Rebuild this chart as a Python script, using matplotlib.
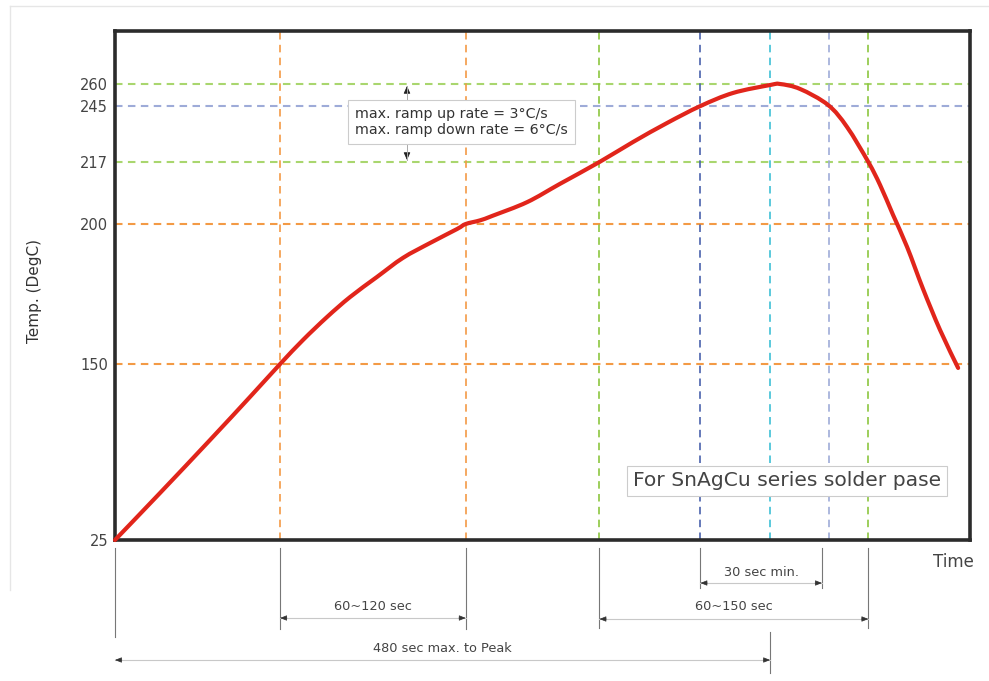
import numpy as np
import matplotlib
matplotlib.use("Agg")
import matplotlib.pyplot as plt
import matplotlib.transforms as mtransforms
from matplotlib.path import Path
from matplotlib.patches import PathPatch

# ---------------- data ----------------
time_s = [0, 33, 69.6, 98.9, 121, 137.8, 155.4, 172.2, 192, 211, 230.8, 250.6, 257,
          267.5, 277, 302, 326, 355, 379.6, 404.5, 429, 452.9, 480, 487.3, 502, 522.5,
          536.4, 552, 560.6, 570.1, 580.4, 592.1, 604.6, 617.8]
temp_c = [25, 58.4, 96, 126.6, 150, 158.6, 166.8, 173.9, 181.1, 187.9, 193.2, 198.2, 200,
          201.0, 202.3, 206.0, 211.0, 217, 227, 236.5, 245, 253.9, 259.3, 260, 256.6, 245.7,
          234.5, 217, 210.7, 202.5, 191.8, 176.8, 162.1, 147.2]

ytick_vals = [25, 150, 200, 217, 245, 260]
hlines = [(260, '#a9d66e'), (245, '#9eabd8'), (217, '#a9d66e'), (200, '#f39a45'), (150, '#f39a45')]
vlines = [(121, '#f39a45'), (257, '#f39a45'), (355, '#8cc63f'), (429, '#4a62ad'),
          (480, '#3ec0d6'), (523, '#9eabd8'), (552, '#8cc63f')]
spans = [("60~120 sec", 121, 257), ("60~150 sec", 355, 552),
         ("30 sec min.", 429, 518), ("480 sec max. to Peak", 0, 480)]
note_text = "max. ramp up rate = 3\u00b0C/s\nmax. ramp down rate = 6\u00b0C/s"
box_text = "For SnAgCu series solder pase"

FONT = 'DejaVu Sans'

# ---------------- scale (schematic, piecewise) ----------------
av = np.array([25, 150, 200, 217, 245, 260, 296], float)
ap = np.array([0, 176, 316, 378, 434, 456, 509], float)

def _pw(v, a, b):
    v = np.asarray(v, float)
    out = np.interp(v, a, b)
    s0 = (b[1] - b[0]) / (a[1] - a[0])
    s1 = (b[-1] - b[-2]) / (a[-1] - a[-2])
    out = np.where(v < a[0], b[0] + (v - a[0]) * s0, out)
    out = np.where(v > a[-1], b[-1] + (v - a[-1]) * s1, out)
    return out

fwd = lambda v: _pw(v, av, ap)
inv = lambda p: _pw(p, ap, av)

W, H = 989, 681
fig = plt.figure(figsize=(W / 100, H / 100), dpi=100)
fig.patch.set_facecolor('white')
L, R, T, B = 115, 970, 31, 540
ax = fig.add_axes([L / W, 1 - B / H, (R - L) / W, (B - T) / H])
ax.set_yscale('function', functions=(fwd, inv))
ax.set_ylim(25, 296)
ax.set_xlim(0, 626.5)

for v, c in hlines:
    ax.axhline(v, color=c, lw=1.5, ls=(0, (3.6, 2.6)), zorder=1)
for t, c in vlines:
    ax.axvline(t, color=c, lw=1.2, ls=(0, (4.5, 3.2)), zorder=1)

# smooth curve through the read points (Catmull-Rom -> cubic Bezier in display space)
pts = ax.transData.transform(np.column_stack([time_s, temp_c]))
n = len(pts)
verts = [pts[0]]
codes = [Path.MOVETO]
for i in range(n - 1):
    p0 = pts[max(i - 1, 0)]
    p1 = pts[i]
    p2 = pts[i + 1]
    p3 = pts[min(i + 2, n - 1)]
    c1 = p1 + (p2 - p0) / 6.0
    c2 = p2 - (p3 - p1) / 6.0
    verts += [c1, c2, p2]
    codes += [Path.CURVE4] * 3
verts_data = ax.transData.inverted().transform(np.array(verts))
curve = PathPatch(Path(verts_data, codes), fill=False, edgecolor='#e1251b', lw=3.0,
                  capstyle='round', joinstyle='round', transform=ax.transData,
                  zorder=3, clip_on=False)
ax.add_patch(curve)

ax.set_yticks(ytick_vals)
ax.set_yticklabels([str(v) for v in ytick_vals])
ax.set_xticks([])
ax.tick_params(axis='y', length=0, pad=5, labelsize=10.5, labelcolor='#444444')
for lab in ax.get_yticklabels():
    lab.set_family(FONT)
for s in ax.spines.values():
    s.set_color('#2b2b2b')
    s.set_linewidth(2.6)

def P(x, y):
    return (x / W, 1 - y / H)

fig.text(*P(35, 291), "Temp. (DegC)", rotation=90, ha='center', va='center',
         fontsize=11, color='#333333', family=FONT)
fig.text(*P(953, 562), "Time", ha='center', va='center', fontsize=12,
         color='#444444', family=FONT)

# note box with arrows
fig.text(*P(355, 122), note_text, ha='left', va='center', fontsize=10.3,
         color='#333333', family=FONT, linespacing=1.15,
         bbox=dict(boxstyle='square,pad=0.5', fc='white', ec='#cccccc', lw=0.8),
         zorder=5)
for y0, y1 in [(102, 86), (142, 160)]:
    fig.add_artist(plt.Line2D([407 / W, 407 / W], [1 - y0 / H, 1 - y1 / H],
                              color='#aaaaaa', lw=0.7))
    d = 6 if y1 < y0 else -6
    ax.annotate("", xy=P(407, y1), xytext=P(407, y1 + d),
                xycoords='figure fraction', textcoords='figure fraction',
                arrowprops=dict(arrowstyle='-|>,head_length=0.45,head_width=0.2',
                                color='#222222', lw=0.6, shrinkA=0, shrinkB=0))

fig.text(*P(787, 481), box_text, ha='center', va='center', fontsize=14.6,
         color='#444444', family=FONT,
         bbox=dict(boxstyle='square,pad=0.28', fc='white', ec='#cccccc', lw=0.8))

# below-axis dimension lines
trans = mtransforms.blended_transform_factory(ax.transData, fig.transFigure)
def fy(y):
    return 1 - y / H

ticks_below = [(0, 548, 637), (121, 548, 629), (257, 548, 629), (355, 548, 628),
               (429, 548, 588), (518, 548, 588), (552, 548, 628), (480, 632, 673)]
for t, y0, y1 in ticks_below:
    ax.plot([t, t], [fy(y0), fy(y1)], transform=trans, color='#777777', lw=0.8,
            clip_on=False)

span_y = {"60~120 sec": (618, 607), "60~150 sec": (619, 607),
          "30 sec min.": (583, 572), "480 sec max. to Peak": (660, 648)}
for label, t0, t1 in spans:
    ya, yt = span_y[label]
    ax.plot([t0, t1], [fy(ya), fy(ya)], transform=trans, color='#c8c8c8', lw=0.8,
            clip_on=False)
    for tip, back in [(t0, t0 + 5), (t1, t1 - 5)]:
        ax.annotate("", xy=(tip, fy(ya)), xytext=(back, fy(ya)), xycoords=trans,
                    textcoords=trans,
                    arrowprops=dict(arrowstyle='-|>,head_length=0.4,head_width=0.16',
                                    color='#333333', lw=0.5, shrinkA=0, shrinkB=0),
                    annotation_clip=False)
    xc = (t0 + t1) / 2 if label != "480 sec max. to Peak" else 240
    ax.text(xc, fy(yt), label, transform=trans, ha='center', va='center',
            fontsize=9.3, color='#444444', family=FONT, clip_on=False)

# faint outer frame
fig.add_artist(plt.Line2D([10 / W, 1], [1 - 6 / H, 1 - 6 / H], color='#e6e6e6', lw=1))
fig.add_artist(plt.Line2D([10 / W, 10 / W], [1 - 6 / H, 1 - 590 / H], color='#e6e6e6', lw=1))

fig.savefig("out.png", dpi=100, facecolor='white')
